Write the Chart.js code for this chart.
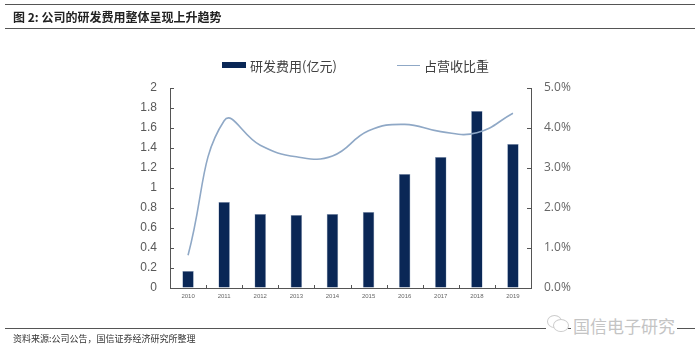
<!DOCTYPE html>
<html>
<head>
<meta charset="utf-8">
<script src="https://cdn.jsdelivr.net/npm/chart.js@4/dist/chart.umd.min.js"></script>
<style>
  body { margin:0; background:#fff; }
  #wrap { position:relative; width:700px; height:357px; overflow:hidden; }
  canvas { position:absolute; left:0; top:0; }
  .hl { position:absolute; left:5px; width:690px; height:0; border-top:1.5px solid #555; }
  #title { position:absolute; left:13px; top:8px; font:bold 12px "Noto Sans CJK SC", sans-serif; color:#222; white-space:nowrap; }
  #foot { position:absolute; left:13px; top:332px; font:9px "Noto Sans CJK SC", sans-serif; color:#333; white-space:nowrap; }
  #wm { position:absolute; left:571px; top:313px; font:17px "Noto Sans CJK SC", sans-serif; color:#c4c4c4; background:#fff; padding:0 2px; white-space:nowrap; }
  #wmicon { position:absolute; left:546px; top:314px; width:22px; height:17px; background:#fff; }
  .bub { position:absolute; border:1px solid #ccc; border-radius:50%; background:#fff; }
  .leg { position:absolute; font:13px "Noto Sans CJK SC", sans-serif; color:#404040; white-space:nowrap; }
</style>
</head>
<body>
<div id="wrap">
  <canvas id="c" width="700" height="357"></canvas>
  <div class="hl" style="top:4px"></div>
  <div class="hl" style="top:28px"></div>
  <div id="title">图 2: 公司的研发费用整体呈现上升趋势</div>
  <div class="leg" style="left:222px;top:62px;width:24px;height:6px;background:#0a2756"></div>
  <div class="leg" style="left:250px;top:56px">研发费用(亿元)</div>
  <div class="leg" style="left:397px;top:65px;width:23px;height:0;border-top:1.5px solid #8fa8c6"></div>
  <div class="leg" style="left:424px;top:56px">占营收比重</div>
  <div class="hl" style="top:328px"></div>
  <div id="foot">资料来源:公司公告，国信证券经济研究所整理</div>
  <div id="wmicon">
    <div class="bub" style="left:1px;top:1px;width:13px;height:11px"></div>
    <div class="bub" style="left:7px;top:5px;width:14px;height:11px"></div>
  </div>
  <div id="wm">国信电子研究</div>
</div>
<script>
const years = ['2010','2011','2012','2013','2014','2015','2016','2017','2018','2019'];
const rdExpense = [0.17, 0.86, 0.74, 0.73, 0.74, 0.76, 1.14, 1.31, 1.77, 1.44];
const revenueShare = [0.82, 4.18, 3.57, 3.28, 3.30, 3.93, 4.09, 3.91, 3.88, 4.37];
const leftTicks = [0, 0.2, 0.4, 0.6, 0.8, 1, 1.2, 1.4, 1.6, 1.8, 2];
const rightTicks = [0, 1, 2, 3, 4, 5];

const innerTicks = {
  id: 'innerTicks',
  afterDraw(chart) {
    const ctx = chart.ctx, a = chart.chartArea;
    const yl = chart.scales.y, yr = chart.scales.y2, x = chart.scales.x;
    ctx.save();
    ctx.strokeStyle = '#555';
    ctx.lineWidth = 1;
    ctx.beginPath();
    leftTicks.forEach(v => { const p = Math.round(yl.getPixelForValue(v)) + 0.5; ctx.moveTo(a.left, p); ctx.lineTo(a.left + 4, p); });
    rightTicks.forEach(v => { const p = Math.round(yr.getPixelForValue(v)) + 0.5; ctx.moveTo(a.right - 4, p); ctx.lineTo(a.right, p); });
    for (let i = 1; i < years.length; i++) {
      const p = Math.round((x.getPixelForValue(i - 1) + x.getPixelForValue(i)) / 2) + 0.5;
      ctx.moveTo(p, a.bottom); ctx.lineTo(p, a.bottom - 3);
    }
    ctx.stroke();
    ctx.restore();
  }
};

new Chart(document.getElementById('c'), {
  data: {
    labels: years,
    datasets: [
      { type: 'line', label: '占营收比重', data: revenueShare, yAxisID: 'y2', borderColor: '#8fa8c6', borderWidth: 1.6, pointRadius: 0, tension: 0.45, fill: false, order: 0 },
      { type: 'bar', label: '研发费用(亿元)', data: rdExpense, yAxisID: 'y', backgroundColor: '#0a2756', borderColor: '#9fb0c8', borderWidth: 0.6, barPercentage: 0.32, categoryPercentage: 1.0, order: 1 }
    ]
  },
  options: {
    responsive: false,
    animation: false,
    layout: { padding: { top: 88, left: 0, right: 0, bottom: 0 } },
    plugins: { legend: { display: false }, tooltip: { enabled: false } },
    scales: {
      x: {
        offset: true,
        grid: { display: false, drawTicks: false },
        border: { display: true, color: '#555', width: 1 },
        ticks: { color: '#666', font: { size: 6, family: 'Liberation Sans' }, padding: 5, maxRotation: 0 },
        afterFit(s) { s.height = 69; }
      },
      y: {
        position: 'left', min: 0, max: 2,
        afterBuildTicks(s) { s.ticks = leftTicks.map(v => ({ value: v })); },
        grid: { drawOnChartArea: false, drawTicks: false },
        border: { display: true, color: '#555', width: 1 },
        ticks: { color: '#595959', font: { size: 12, family: 'Liberation Sans' }, padding: 13, callback: v => String(v) },
        afterFit(s) { s.width = 170; }
      },
      y2: {
        position: 'right', min: 0, max: 5,
        afterBuildTicks(s) { s.ticks = rightTicks.map(v => ({ value: v })); },
        grid: { drawOnChartArea: false, drawTicks: false },
        border: { display: true, color: '#555', width: 1 },
        ticks: { color: '#666', font: { size: 12, family: 'Open Sans' }, padding: 13, callback: v => v.toFixed(1) + '%' },
        afterFit(s) { s.width = 169; }
      }
    }
  },
  plugins: [innerTicks]
});
</script>
</body>
</html>
